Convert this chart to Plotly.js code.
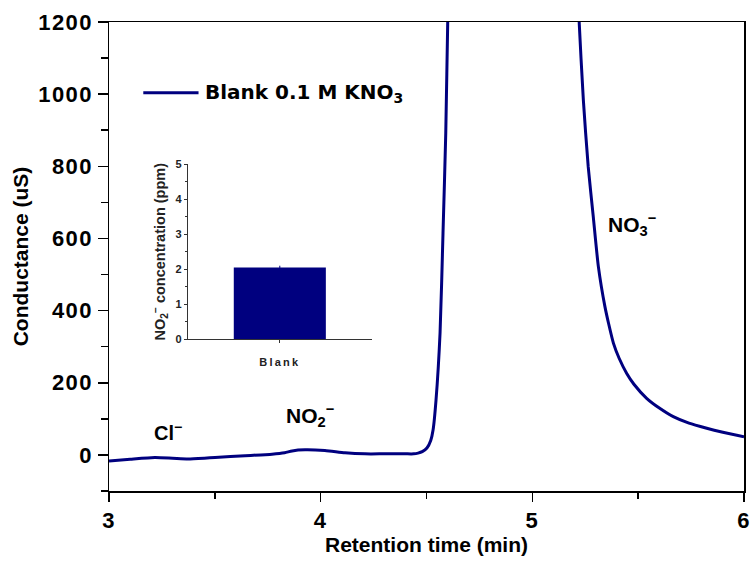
<!DOCTYPE html>
<html><head><meta charset="utf-8">
<script src="https://cdn.plot.ly/plotly-3.0.1.min.js"></script>
<style>
body{margin:0;background:#fff}#c{width:756px;height:561px}
.xtick text, .ytick text {letter-spacing: 1.5px}
.x2tick text {letter-spacing: 2.2px}
</style>
</head><body><div id="c"></div>
<script>
// Chromatogram: retention time (min) vs conductance (uS)
const timeMin = [3.0, 3.1, 3.217, 3.3, 3.373, 3.45, 3.501, 3.643, 3.77, 3.83, 3.865, 3.926, 4.02, 4.115, 4.209, 4.3, 4.398, 4.44, 4.46, 4.48, 4.502, 4.52, 4.531, 4.545, 4.564, 4.578, 4.591, 4.6, 4.65, 4.9, 5.15, 5.222, 5.241, 5.264, 5.288, 5.312, 5.343, 5.36, 5.383, 5.41, 5.446, 5.48, 5.54, 5.6, 5.666, 5.74, 5.824, 5.9, 6.0];
const conductance = [-17, -12, -7, -9, -11, -9, -7, -2, 2, 6, 11, 14, 12, 6, 3, 3, 3, 3, 5, 9, 19, 40, 69, 152, 338, 615, 892, 1192, 2600, 4000, 2200, 1192, 984, 799, 660, 522, 411, 365, 310, 268, 226, 196, 157, 130, 106, 88, 74, 63, 50];
const seriesName = "Blank 0.1 M KNO<sub>3</sub>";
// Inset bar chart
const insetCats = ["Blank"];
const insetVals = [2.05];
const insetErr = [0.05];

const navy = "#00007f";
const font = "Liberation Sans, Arial, sans-serif";
const wide = "DejaVu Sans, sans-serif";

const traces = [
  {x: timeMin, y: conductance, type: "scatter", mode: "lines", line: {color: navy, width: 3, shape: "spline", smoothing: 0.6}, name: seriesName, showlegend: false},
  {x: insetCats, y: insetVals, type: "bar", xaxis: "x2", yaxis: "y2", marker: {color: navy, line: {width: 0}}, width: 1,
   error_y: {type: "data", array: insetErr, color: navy, thickness: 1, width: 0}, showlegend: false}
];

const layout = {
  width: 756, height: 561,
  margin: {l: 109, r: 12, t: 22, b: 70},
  paper_bgcolor: "#fff", plot_bgcolor: "#fff",
  font: {family: font, color: "#000"},
  xaxis: {range: [3, 6], dtick: 1, tick0: 3, showgrid: false, zeroline: false,
    showline: true, linecolor: "#000", linewidth: 1.5, mirror: true,
    ticks: "outside", ticklen: 9, tickwidth: 1.5, tickcolor: "#000",
    minor: {dtick: 0.5, ticks: "outside", ticklen: 6, tickwidth: 1.5, tickcolor: "#000"},
    tickfont: {size: 22, family: font, weight: "bold"},
    title: {text: "<b>Retention time (min)</b>", font: {size: 21, family: font}, standoff: 4}},
  yaxis: {range: [-100, 1200], dtick: 200, showgrid: false, zeroline: false,
    showline: true, linecolor: "#000", linewidth: 1.5, mirror: true,
    ticks: "outside", ticklen: 10, tickwidth: 1.5, tickcolor: "#000",
    minor: {dtick: 100, ticks: "outside", ticklen: 7, tickwidth: 1.5, tickcolor: "#000"},
    tickfont: {size: 22, family: font, weight: "bold"},
    title: {text: "<b>Conductance (uS)</b>", font: {size: 21, family: font}, standoff: 4}},
  xaxis2: {domain: [0.124, 0.414], anchor: "y2", range: [-1, 1], type: "category",
    showgrid: false, zeroline: false, showline: true, linecolor: "#333", linewidth: 1,
    ticks: "outside", ticklen: 3, tickcolor: "#333", ticklabelstandoff: 10,
    tickfont: {size: 11, family: font, weight: "bold", color: "#222"}},
  yaxis2: {domain: [0.3235, 0.697], anchor: "x2", range: [0, 5], dtick: 1,
    showgrid: false, zeroline: false, showline: true, linecolor: "#333", linewidth: 1,
    ticks: "outside", ticklen: 3, tickcolor: "#333",
    minor: {dtick: 0.5, ticks: "outside", ticklen: 2, tickcolor: "#333"},
    tickfont: {size: 11, family: font, weight: "bold", color: "#222"},
    title: {text: "<b>NO<sub>2</sub><sup>−</sup> concentration (ppm)</b>", font: {size: 14.5, family: font, color: "#222"}, standoff: 6}},
  shapes: [
    {type: "line", xref: "paper", yref: "paper", x0: 0.054, x1: 0.141, y0: 0.849, y1: 0.849, line: {color: navy, width: 3}}
  ],
  annotations: [
    {xref: "paper", yref: "paper", x: 0.148, y: 0.849, xanchor: "left", yanchor: "middle", showarrow: false,
     text: "<b>Blank 0.1 M KNO<sub>3</sub></b>", font: {size: 20, family: wide}},
    {xref: "x", yref: "y", x: 3.28, y: 65, xanchor: "center", yanchor: "middle", showarrow: false,
     text: "<b>Cl<sup>−</sup></b>", font: {size: 20, family: font}},
    {xref: "x", yref: "y", x: 3.95, y: 108, xanchor: "center", yanchor: "middle", showarrow: false,
     text: "<b>NO<sub>2</sub><sup>−</sup></b>", font: {size: 21, family: font}},
    {xref: "x", yref: "y", x: 5.47, y: 640, xanchor: "center", yanchor: "middle", showarrow: false,
     text: "<b>NO<sub>3</sub><sup>−</sup></b>", font: {size: 21, family: font}}
  ]
};

Plotly.newPlot("c", traces, layout, {staticPlot: true, displayModeBar: false});
</script></body></html>
